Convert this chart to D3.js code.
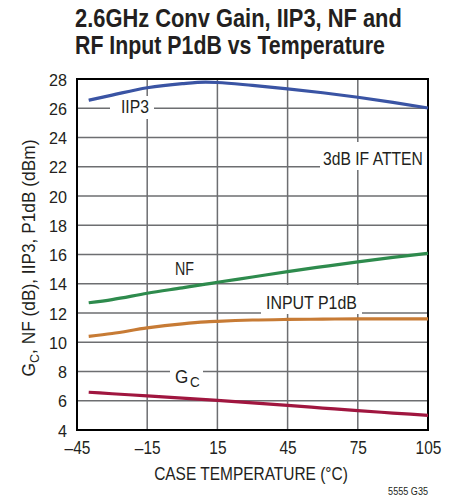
<!DOCTYPE html>
<html><head><meta charset="utf-8">
<script src="https://cdn.jsdelivr.net/npm/d3@7"></script>
<style>
body{margin:0;background:#fff;}
text{font-family:'Liberation Sans',Arial,Helvetica,sans-serif;fill:#231f20;}
</style></head>
<body><svg id="c" width="458" height="497"></svg>
<script>
const temps = [-40, -30, -15, 0, 10, 15, 30, 45, 60, 75, 90, 105];
const iip3  = [26.55, 26.9, 27.4, 27.68, 27.78, 27.76, 27.56, 27.33, 27.06, 26.75, 26.4, 26.02];
const nf    = [12.7, 12.92, 13.35, 13.72, 13.97, 14.1, 14.46, 14.83, 15.17, 15.5, 15.8, 16.08];
const p1db  = [10.4, 10.6, 10.98, 11.26, 11.39, 11.43, 11.52, 11.56, 11.58, 11.6, 11.6, 11.6];
const gc    = [6.58, 6.48, 6.33, 6.18, 6.08, 6.03, 5.85, 5.68, 5.5, 5.32, 5.16, 5.0];
const xTicks = [-45, -15, 15, 45, 75, 105];
const yTicks = [4, 6, 8, 10, 12, 14, 16, 18, 20, 22, 24, 26, 28];
const titleLines = ["2.6GHz Conv Gain, IIP3, NF and", "RF Input P1dB vs Temperature"];

const svg = d3.select("#c");
const L = 77, R = 428, T = 79, B = 430;
const x = d3.scaleLinear().domain([-45, 105]).range([L, R]);
const y = d3.scaleLinear().domain([4, 28]).range([B, T]);

// text placed at (tx,ty) and horizontally scaled to a target width
function fitted(parent, tx, ty, str, size, w, opts = {}) {
  const t = parent.append("text").attr("font-size", size).text(str);
  if (opts.bold) t.attr("font-weight", "bold");
  if (opts.anchor) t.attr("text-anchor", opts.anchor);
  const n = t.node().getComputedTextLength();
  const s = w / n;
  t.attr("transform", `translate(${tx},${ty})${opts.rot ? " rotate(" + opts.rot + ")" : ""} scale(${s},1)`);
  return t;
}

// title
fitted(svg, 75, 27, titleLines[0], 26.5, 327, {bold: true});
fitted(svg, 75, 54, titleLines[1], 26.5, 310, {bold: true});

// grid
const g = svg.append("g");
g.selectAll(".gx").data(xTicks).join("line")
  .attr("x1", d => x(d)).attr("x2", d => x(d)).attr("y1", T).attr("y2", B)
  .attr("stroke", "#6d6e71").attr("stroke-width", 1.5);
g.selectAll(".gy").data(yTicks).join("line")
  .attr("x1", L).attr("x2", R).attr("y1", d => y(d)).attr("y2", d => y(d))
  .attr("stroke", "#6d6e71").attr("stroke-width", 1.5);

// label knockouts
const knock = [[110, 96, 44, 23], [320, 142, 108, 28], [261, 285, 101, 29], [170, 362, 33, 28]];
g.selectAll(".k").data(knock).join("rect")
  .attr("x", d => d[0]).attr("y", d => d[1]).attr("width", d => d[2]).attr("height", d => d[3])
  .attr("fill", "#fff");

// frame
svg.append("rect").attr("x", L).attr("y", T).attr("width", R - L).attr("height", B - T)
  .attr("fill", "none").attr("stroke", "#000").attr("stroke-width", 2);

// axes tick labels
const xAxis = d3.axisBottom(x).tickValues(xTicks).tickSize(0).tickPadding(0)
  .tickFormat(d => d < 0 ? "\u2013" + Math.abs(d) : d);
const xa = svg.append("g").attr("transform", `translate(0,${B + 24})`).call(xAxis);
xa.select(".domain").remove();
xa.selectAll("text").attr("font-size", 18).attr("dy", 0).attr("y", 0).attr("fill", "#231f20")
  .attr("transform", "scale(0.86,1)").attr("font-family", null);

const yAxis = d3.axisLeft(y).tickValues(yTicks).tickSize(0).tickPadding(0);
const ya = svg.append("g").attr("transform", `translate(${L - 10},0)`).call(yAxis);
ya.select(".domain").remove();
ya.selectAll("text").attr("font-size", 17).attr("dy", "0.36em").attr("x", 0).attr("fill", "#231f20")
  .attr("transform", "scale(0.95,1)").attr("font-family", null);
svg.selectAll(".tick text").style("font-family", "'Liberation Sans',Arial,sans-serif");

// axis titles
fitted(svg, 251, 480, "CASE TEMPERATURE (°C)", 18, 194, {anchor: "middle"});

const yt = svg.append("text").attr("text-anchor", "middle").attr("font-size", 18);
yt.append("tspan").text("G");
yt.append("tspan").attr("font-size", 13).attr("dy", 4).text("C");
yt.append("tspan").attr("dy", -4).text(", NF (dB), IIP3, P1dB  (dBm)");
{
  const n = yt.node().getBBox().width;
  yt.attr("transform", `translate(35,258) rotate(-90) scale(${237 / n},1)`);
}

fitted(svg, 428, 495, "5555 G35", 11, 40, {anchor: "end"});

// curves
const series = [
  {v: iip3, c: "#3a54a4"},
  {v: nf,   c: "#2e8b4d"},
  {v: p1db, c: "#c77b35"},
  {v: gc,   c: "#a0163f"}
];
const line = d3.line().x(d => x(d[0])).y(d => y(d[1])).curve(d3.curveMonotoneX);
svg.selectAll(".s").data(series).join("path")
  .attr("d", s => line(temps.map((t, i) => [t, s.v[i]])))
  .attr("fill", "none").attr("stroke", s => s.c).attr("stroke-width", 3.2);

// curve labels
fitted(svg, 121, 113, "IIP3", 19, 28);
fitted(svg, 323, 165, "3dB IF ATTEN", 19, 100);
fitted(svg, 175, 275, "NF", 19, 19);
fitted(svg, 266, 309, "INPUT P1dB", 19, 91);
const gl = svg.append("text").attr("font-size", 19);
gl.append("tspan").text("G");
gl.append("tspan").attr("font-size", 15).attr("dx", 2).attr("dy", 4).text("C");
gl.attr("transform", "translate(175,383) scale(0.9,1)");
</script></body></html>
